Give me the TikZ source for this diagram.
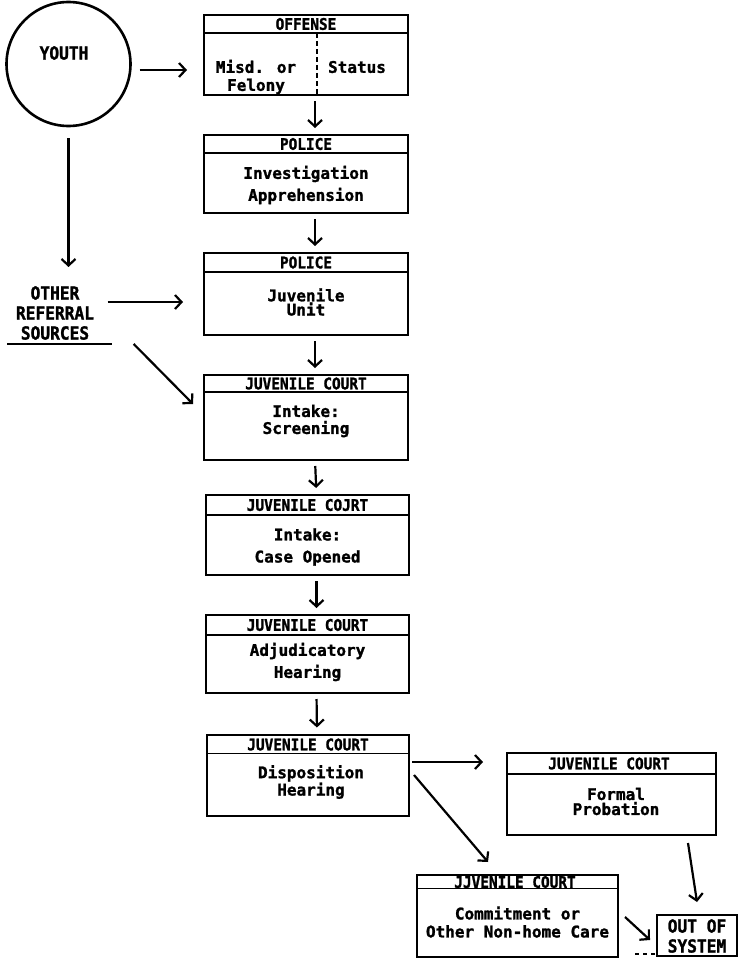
\documentclass[tikz,border=0pt]{standalone}
\usepackage{fontspec}
\newfontfamily\typefont{DejaVu Sans Mono Bold}[FakeBold=1.4]
\newfontfamily\headfont{DejaVu Sans Mono Bold}[FakeBold=1.4, FakeStretch=0.9]
\usetikzlibrary{arrows.meta}

\tikzset{
    stage/.style={draw, rectangle, line width=2pt, outer sep=0pt, inner sep=0pt},
    rule/.style={line width=1.8pt},
    head/.style={inner sep=0pt, font=\headfont\fontsize{16}{16}\selectfont},
    body/.style={inner sep=0pt, align=center, font=\typefont\fontsize{16}{#1}\selectfont},
    body/.default=20,
    big/.style={inner sep=0pt, align=center, font=\headfont\fontsize{18}{20}\selectfont},
    flow/.style={-{Straight Barb[length=6.5pt,width=14pt]}, line width=2.2pt},
    down/.style={flow, shorten <=6pt, shorten >=7pt},
}

\begin{document}
\begin{tikzpicture}[x=1pt, y=-1pt]
    \useasboundingbox (0,0) rectangle (738,958);

    \node[circle, draw, line width=2.6pt, minimum size=124pt, outer sep=0pt] (youth) at (68.5,64) {};
    \node[big] (youthtxt) at (64,53) {YOUTH};
    \node[big] (referral) at (55,313) {OTHER\\REFERRAL\\SOURCES};
    \draw[line width=2pt] ([xshift=-8.5pt,yshift=-4pt]referral.south west) -- ([xshift=17.5pt,yshift=-4pt]referral.south east);

    \node[stage, minimum width=204pt, minimum height=80pt] (offense) at (306,55) {};
    \node[stage, minimum width=204pt, minimum height=78pt] (police1) at (306,174) {};
    \node[stage, minimum width=204pt, minimum height=82pt] (police2) at (306,294) {};
    \node[stage, minimum width=204pt, minimum height=85pt] (intake1) at (306,417.5) {};
    \node[stage, minimum width=203pt, minimum height=80pt] (intake2) at (307.5,535) {};
    \node[stage, minimum width=203pt, minimum height=78pt] (adjud) at (307.5,654) {};
    \node[stage, minimum width=202pt, minimum height=81pt] (dispo) at (308,775) {};
    \node[stage, minimum width=209pt, minimum height=82pt] (probation) at (611.5,794) {};
    \node[stage, minimum width=201pt, minimum height=82pt] (commit) at (517.5,916) {};
    \node[stage, minimum width=80pt, minimum height=41pt] (outsys) at (697,935.5) {};

    \foreach \b/\h in {offense/18, police1/18, police2/19, intake1/17, intake2/20, adjud/20, dispo/19, probation/21, commit/13.5}
        \draw[rule] ([yshift=-\h pt]\b.north west) -- ([yshift=-\h pt]\b.north east);
    \draw[rule, dashed, dash pattern=on 5pt off 3pt] (317,33) -- (317,95);

    \node[head] (offenseh) at (306,24) {OFFENSE};
    \node[head] (police1h) at (306,144) {POLICE};
    \node[head] (police2h) at (306,262.5) {POLICE};
    \node[head] (intake1h) at (306,383.5) {JUVENILE COURT};
    \node[head] (intake2h) at (307.5,505) {JUVENILE COJRT};
    \node[head] (adjudh) at (307.5,625) {JUVENILE COURT};
    \node[head] (dispoh) at (308,744.5) {JUVENILE COURT};
    \node[head] (probationh) at (609,763.5) {JUVENILE COURT};
    \node[head] (commith) at (515,882) {JJVENILE COURT};

    \node[body=18] (offensel) at (256,77) {Misd. or\\Felony};
    \node[body] (offenser) at (357,67) {Status};
    \node[body=22] (police1b) at (306,185) {Investigation\\Apprehension};
    \node[body=13] (police2b) at (306,302) {Juvenile\\Unit};
    \node[body=17] (intake1b) at (306,421) {Intake:\\Screening};
    \node[body=22] (intake2b) at (307.5,547) {Intake:\\Case Opened};
    \node[body=22] (adjudb) at (307.5,662) {Adjudicatory\\Hearing};
    \node[body=13] (dispob) at (311,782) {Disposition\\Hearing};
    \node[body=15] (probationb) at (616,801.5) {Formal\\Probation};
    \node[body=18] (commitb) at (517.5,922) {Commitment or\\Other Non-home Care};
    \node[big] (outsysb) at (697,936) {OUT OF\\SYSTEM};

    \draw[flow] ([xshift=9pt,yshift=-6pt]youth.east) -- ([xshift=-17pt,yshift=-15pt]offense.west);
    \draw[flow, shorten <=12pt, shorten >=19pt] (youth.south) -- (youth.south |- referral.north);
    \draw[flow] ([xshift=13.5pt,yshift=11pt]referral.east) -- ([xshift=-21pt,yshift=-8pt]police2.west);
    \draw[flow] ([xshift=39.5pt,yshift=-4pt]referral.south east) -- ([xshift=-11pt,yshift=13.5pt]intake1.west);
    \foreach \a/\b in {offense/police1, police1/police2, police2/intake1, intake1/intake2, intake2/adjud, adjud/dispo}
        \draw[down] ([xshift=9pt]\a.south) -- ([xshift=9pt]\b.north);
    \draw[flow] ([xshift=3pt,yshift=13pt]dispo.east) -- ([xshift=-24pt,yshift=32pt]probation.west);
    \draw[flow] ([xshift=5pt]dispo.east) -- ([xshift=-29.5pt,yshift=13pt]commit.north);
    \draw[flow] ([xshift=76.5pt,yshift=-8pt]probation.south) -- ([yshift=13pt]outsys.north);
    \draw[flow] ([xshift=7pt,yshift=-1pt]commit.east) -- ([xshift=-7pt,yshift=-4.5pt]outsys.west);
    \draw[rule, dashed, dash pattern=on 4pt off 4pt] ([xshift=17pt,yshift=3pt]commit.south east) -- ([yshift=2pt]outsys.south west);
\end{tikzpicture}
\end{document}
